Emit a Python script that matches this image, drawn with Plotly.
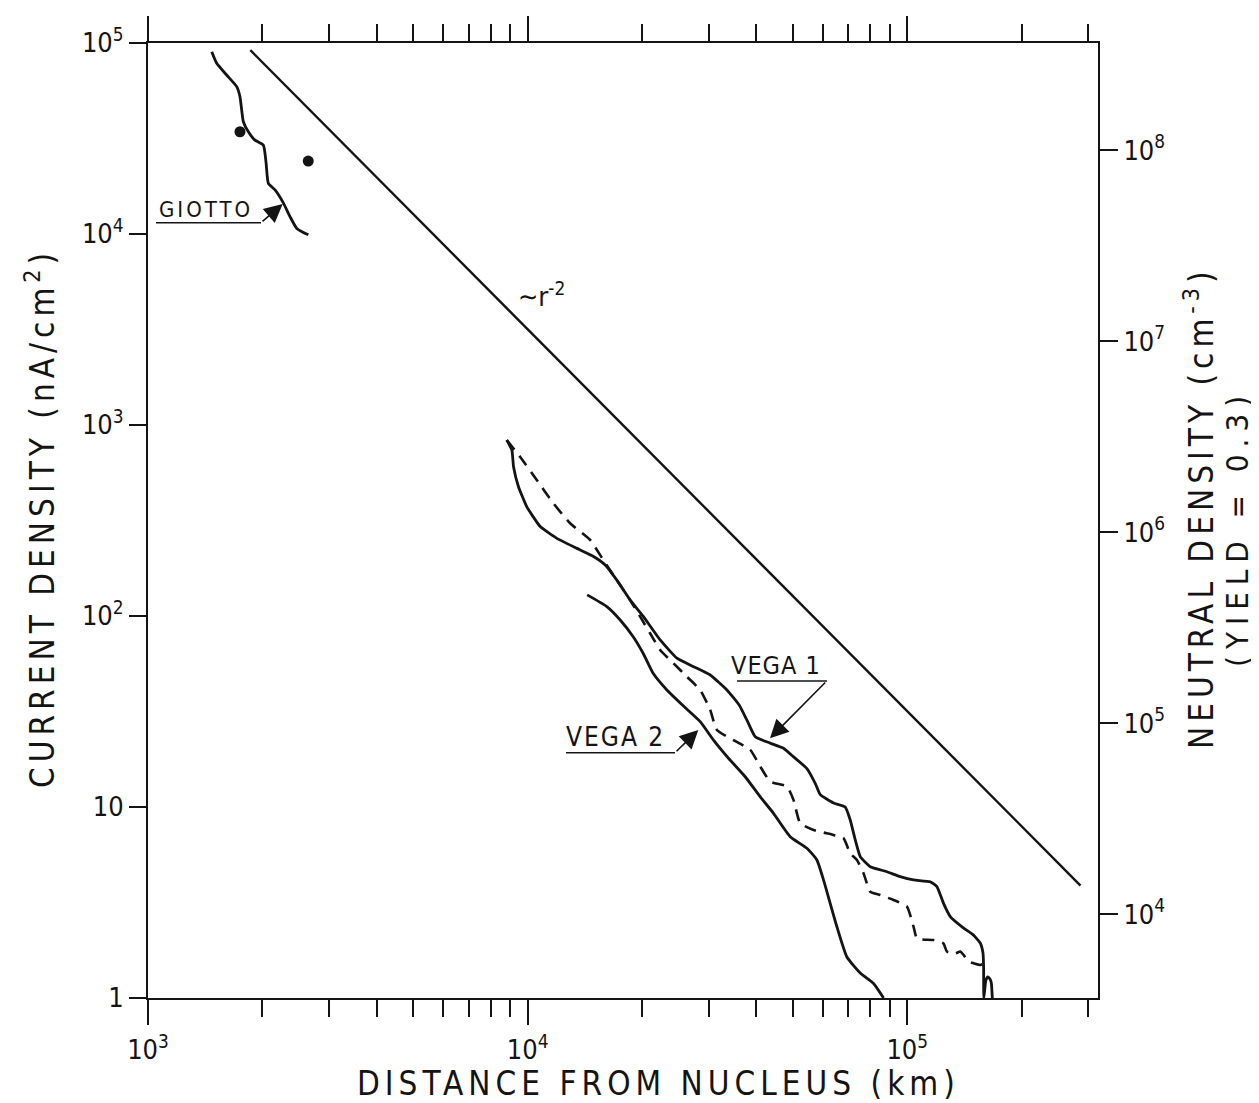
import math
import plotly.graph_objects as go

# ---------------- data ----------------
# distance from nucleus (km) and current density (nA/cm^2)
power_r = [1860, 2.86e5]
power_j = [9.17e4, 3.88]

giotto_r = [1472, 1517, 1611, 1713, 1747, 1765, 1783, 1838, 1913, 2013,
            2047, 2075, 2161, 2274, 2368, 2466, 2644]
giotto_j = [9.0e4, 7.83e4, 6.8e4, 5.91e4, 5.23e4, 4.46e4, 3.87e4, 3.43e4,
            3.1e4, 2.92e4, 2.35e4, 1.84e4, 1.70e4, 1.45e4, 1.23e4, 1.07e4, 9.9e3]

giotto_dot_r = [1747, 2643]
giotto_dot_j = [3.43e4, 2.41e4]

vega1_r = [8810, 9090, 9180, 9460, 9950, 10790, 11940, 13480, 14910, 16010,
           17180, 18630, 20190, 22340, 24730, 27350, 30270, 33490, 36080, 37810,
           39770, 43550, 47210, 50160, 54410, 57220, 58980, 63930, 68640, 70760,
           72950, 75200, 79900, 88400, 95800, 103900, 114900, 119700, 124600, 129800,
           140500, 149200, 155700, 158300, 158900, 159100, 161100, 163000, 165000,
           166500, 167500]
vega1_j = [834, 740, 605, 475, 373, 294, 255, 226, 205, 185,
           154, 121, 99.2, 74.9, 60.1, 54.3, 49.1, 41.0, 34.2, 28.5,
           23.3, 21.6, 20.3, 18.3, 15.9, 13.3, 11.6, 10.5, 10.0, 8.55,
           6.72, 5.49, 4.87, 4.58, 4.32, 4.15, 4.06, 3.83, 3.13, 2.67,
           2.33, 2.14, 1.94, 1.72, 1.45, 1.0, 1.24, 1.29, 1.26,
           1.20, 1.0]

vega1b_r = [8810, 9550, 10570, 11690, 12940, 14610, 15840, 17180, 18630, 19790,
            21020, 22340, 24230, 26270, 28480, 30270, 31520, 34860, 38580, 41000,
            43550, 48200, 50160, 52240, 56640, 63930, 67950, 70760, 73700, 76700,
            79900, 84900, 92000, 99800, 103900, 106100, 117300, 124600, 127200, 133800,
            137900, 140700, 145100, 149500, 155700, 158900]
vega1b_j = [834, 682, 515, 389, 306, 250, 196, 154, 121, 99.2,
            81.2, 66.4, 56.5, 48.1, 41.0, 32.2, 25.3, 22.4, 19.9, 16.3,
            13.6, 12.8, 10.9, 8.22, 7.58, 7.14, 6.86, 5.72, 5.28, 4.50,
            3.60, 3.46, 3.26, 3.01, 2.36, 2.05, 2.01, 1.93, 1.75, 1.71,
            1.75, 1.68, 1.55, 1.52, 1.49, 1.52]

vega2_r = [14350, 16170, 17530, 18970, 20150, 21410, 23270, 25730, 28480, 30880,
           33810, 37420, 41000, 44430, 49170, 54410, 57810, 60170, 62660, 65270,
           69350, 75200, 81500, 86600]
vega2_j = [129, 112, 95.3, 77.9, 63.8, 50.1, 41.0, 33.8, 28.0, 22.4,
           18.0, 14.4, 11.3, 9.27, 6.99, 6.08, 5.28, 4.15, 3.13, 2.36,
           1.64, 1.35, 1.19, 1.0]

x_major = [1e3, 1e4, 1e5]
x_major_text = ["10<sup>3</sup>", "10<sup>4</sup>", "10<sup>5</sup>"]
y_left_vals = [1, 10, 1e2, 1e3, 1e4, 1e5]
y_left_text = ["1", "10", "10<sup>2</sup>", "10<sup>3</sup>", "10<sup>4</sup>", "10<sup>5</sup>"]
y_right_vals = [1e4, 1e5, 1e6, 1e7, 1e8]
y_right_text = ["10<sup>4</sup>", "10<sup>5</sup>", "10<sup>6</sup>", "10<sup>7</sup>", "10<sup>8</sup>"]
neutral_per_current = 3640.0   # neutral density per unit current density (yield = 0.3)

# ---------------- layout geometry (page pixels; page body has an 8px margin) ----------------
OFF = 8
WF, HF = 1251, 1095
L, R, T, B = 148 - OFF, 1098 - OFF, 43 - OFF, 998 - OFF
FONT = "DejaVu Sans Condensed, Liberation Sans Narrow, DejaVu Sans, sans-serif"
INK = "#141414"


def pxx(xp):
    return (xp - OFF - L) / (R - L)


def pxy(yp):
    return (B - (yp - OFF)) / (B - T)


x_minor = [m * 10 ** e for e in (3, 4) for m in range(2, 10)] + [2e5, 3e5]

fig = go.Figure()
fig.add_trace(go.Scatter(x=power_r, y=power_j, mode="lines",
                         line=dict(color=INK, width=2.4), name="~r^-2", showlegend=False))
# same line expressed as neutral density on the right axis (invisible; keeps the axis alive)
fig.add_trace(go.Scatter(x=power_r, y=[j * neutral_per_current for j in power_j], yaxis="y2",
                         mode="lines", line=dict(color="rgba(0,0,0,0)", width=0),
                         hoverinfo="skip", showlegend=False))
fig.add_trace(go.Scatter(x=giotto_r, y=giotto_j, mode="lines",
                         line=dict(color=INK, width=2.8, shape="spline", smoothing=0.5),
                         name="GIOTTO", showlegend=False))
fig.add_trace(go.Scatter(x=giotto_dot_r, y=giotto_dot_j, mode="markers",
                         marker=dict(color=INK, size=11), name="GIOTTO points", showlegend=False))
fig.add_trace(go.Scatter(x=vega1b_r, y=vega1b_j, mode="lines",
                         line=dict(color=INK, width=2.6, dash="12px,8px", shape="spline", smoothing=0.5),
                         name="VEGA 1 (dashed)", showlegend=False))
fig.add_trace(go.Scatter(x=vega1_r, y=vega1_j, mode="lines",
                         line=dict(color=INK, width=2.8, shape="spline", smoothing=0.4),
                         name="VEGA 1", showlegend=False))
fig.add_trace(go.Scatter(x=vega2_r, y=vega2_j, mode="lines",
                         line=dict(color=INK, width=2.8, shape="spline", smoothing=0.5),
                         name="VEGA 2", showlegend=False))

lr = math.log10(neutral_per_current)

fig.update_layout(
    width=WF, height=HF,
    margin=dict(l=L, r=WF - R, t=T, b=HF - B, autoexpand=False),
    paper_bgcolor="white", plot_bgcolor="white",
    font=dict(family=FONT, color=INK, size=24),
    showlegend=False,
    xaxis=dict(type="log", range=[3, math.log10(3.18e5)],
               showline=True, linecolor=INK, linewidth=2, mirror="ticks",
               ticks="outside", ticklen=25, tickwidth=2, tickcolor=INK,
               tickvals=x_major, ticktext=x_major_text, ticklabelstandoff=2,
               tickfont=dict(size=27, family=FONT),
               showgrid=False, zeroline=False,
               minor=dict(ticks="outside", ticklen=17, tickwidth=2, tickcolor=INK,
                          tickvals=x_minor, showgrid=False)),
    yaxis=dict(type="log", range=[0, 5],
               showline=True, linecolor=INK, linewidth=2, mirror=True,
               ticks="outside", ticklen=17, tickwidth=2, tickcolor=INK,
               tickvals=y_left_vals, ticktext=y_left_text,
               tickfont=dict(size=27, family=FONT),
               showgrid=False, zeroline=False),
    yaxis2=dict(type="log", overlaying="y", side="right", anchor="x",
                range=[lr, 5 + lr],
                showline=False, ticks="outside", ticklen=19, tickwidth=2, tickcolor=INK,
                tickvals=y_right_vals, ticktext=y_right_text,
                tickfont=dict(size=27, family=FONT),
                showgrid=False, zeroline=False),
)

ann = []


def label(text, xp, yp, size, angle=0, spacing=0):
    t = text if spacing == 0 else f'<span style="letter-spacing:{spacing}px">{text}</span>'
    ann.append(dict(text=t, x=pxx(xp), y=pxy(yp), xref="paper", yref="paper",
                    showarrow=False, textangle=angle, xanchor="center", yanchor="middle",
                    font=dict(family=FONT, size=size, color=INK)))


def arrow(tail, tip):
    ann.append(dict(text="", x=pxx(tip[0]), y=pxy(tip[1]), xref="paper", yref="paper",
                    ax=tail[0] - tip[0], ay=tail[1] - tip[1], axref="pixel", ayref="pixel",
                    showarrow=True, arrowhead=2, arrowsize=2.3, arrowwidth=1.6,
                    arrowcolor=INK))


label("DISTANCE FROM NUCLEUS (km)", 658, 1083, 33, spacing=5)
label("CURRENT DENSITY (nA/cm<sup>2</sup>)", 40, 518, 33, angle=-90, spacing=5)
label("NEUTRAL DENSITY (cm<sup>-3</sup>)", 1199, 508, 33, angle=-90, spacing=5)
label("(YIELD = 0.3)", 1237, 528, 31, angle=-90, spacing=7)
label("GIOTTO", 206, 210, 22, spacing=3)
label("VEGA 1", 776, 665, 25, spacing=1)
label("VEGA 2", 615, 737, 26, spacing=2)
label("∼r<sup>-2</sup>", 541, 294, 27)

arrow((261, 222.7), (282.7, 204))
arrow((826.7, 681), (770, 738.3))
arrow((675, 752.7), (698.3, 730))

shapes = []
for x0, x1, yy in [(156, 261, 222.7), (737, 827, 681), (566, 675, 752.7)]:
    shapes.append(dict(type="line", xref="paper", yref="paper",
                       x0=pxx(x0), x1=pxx(x1), y0=pxy(yy), y1=pxy(yy),
                       line=dict(color=INK, width=1.6)))

fig.update_layout(annotations=ann, shapes=shapes)
fig.write_html("out.html")
